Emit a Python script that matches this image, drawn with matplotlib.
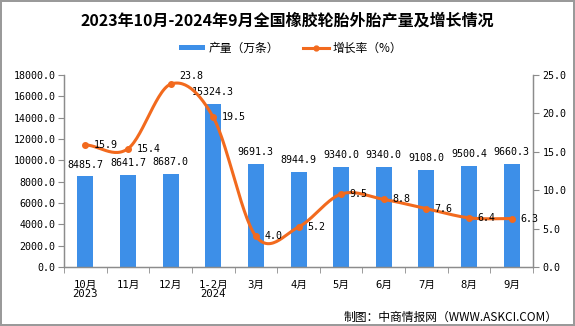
import numpy as np
import matplotlib
matplotlib.use("Agg")
import matplotlib.pyplot as plt
from matplotlib.lines import Line2D
from matplotlib.patches import Patch

months = ["10月\n2023", "11月", "12月", "1-2月\n2024", "3月", "4月",
          "5月", "6月", "7月", "8月", "9月"]
output = [8485.7, 8641.7, 8687.0, 15324.3, 9691.3, 8944.9,
          9340.0, 9340.0, 9108.0, 9500.4, 9660.3]
growth = [15.9, 15.4, 23.8, 19.5, 4.0, 5.2, 9.5, 8.8, 7.6, 6.4, 6.3]

BLUE = "#3d8fe8"
ORANGE = "#f26a1e"
GRAY = "#8c8c8c"
NUM = ["DejaVu Sans Mono", "Noto Sans CJK SC"]
CJK = ["Noto Sans CJK SC", "DejaVu Sans"]


def cardinal_spline(y, n=30):
    # smooth drawing path through the points (catmull-rom)
    y = np.asarray(y, dtype=float)
    x = np.arange(len(y), dtype=float)
    m = np.zeros_like(y)
    m[1:-1] = (y[2:] - y[:-2]) / 2
    m[0] = (y[1] - y[0]) / 2
    m[-1] = (y[-1] - y[-2]) / 2
    xs, ys = [], []
    t = np.linspace(0, 1, n)
    h00 = 2 * t**3 - 3 * t**2 + 1
    h10 = t**3 - 2 * t**2 + t
    h01 = -2 * t**3 + 3 * t**2
    h11 = t**3 - t**2
    for i in range(len(y) - 1):
        xs.append(x[i] + t)
        ys.append(h00 * y[i] + h10 * m[i] + h01 * y[i + 1] + h11 * m[i + 1])
    return np.concatenate(xs), np.concatenate(ys)


fig = plt.figure(figsize=(5.75, 3.26), dpi=100)
fig.patch.set_facecolor("white")
fig.patch.set_edgecolor("#9a9a9a")
fig.patch.set_linewidth(1.5)

ax1 = fig.add_axes([0.1113, 0.181, 0.8157, 0.589])
ax2 = ax1.twinx()

x = np.arange(len(months))
ax1.bar(x, output, width=0.375, color=BLUE, zorder=2)
ax1.set_xlim(-0.5, len(months) - 0.5)
ax1.set_ylim(0, 18000)
ax1.set_yticks(np.arange(0, 18001, 2000))
ax1.set_yticklabels([f"{v:.1f}" for v in np.arange(0, 18001, 2000)],
                    family=NUM, fontsize=7.2)
ax1.set_xticks(x)
ax1.set_xticklabels(months, family=NUM, fontsize=7.6, linespacing=0.95)
ax1.set_xticks(np.arange(-0.5, len(months), 1), minor=True)
ax1.tick_params(axis="x", which="major", length=0, pad=9)
ax1.tick_params(axis="x", which="minor", length=4, color=GRAY)
ax1.tick_params(axis="y", length=4, color=GRAY, pad=2)

for i, v in enumerate(output):
    ax1.annotate(f"{v:.1f}", (x[i], v), xytext=(0, 5), textcoords="offset points",
                 ha="center", va="bottom", family=NUM, fontsize=7.2)

sx, sy = cardinal_spline(growth)
ax2.plot(sx, sy, color=ORANGE, linewidth=2.2, zorder=3)
ax2.plot(x, growth, "o", color=ORANGE, markersize=4, zorder=4)
ax2.set_ylim(0, 25)
ax2.set_yticks(np.arange(0, 26, 5))
ax2.set_yticklabels([f"{v:.1f}" for v in np.arange(0, 26, 5)],
                    family=NUM, fontsize=7.2)
ax2.tick_params(axis="y", length=4, color=GRAY, pad=3)

for i, v in enumerate(growth):
    off = (6, 6) if i == 2 else (6, 0)
    ax2.annotate(f"{v:.1f}", (x[i], v), xytext=off, textcoords="offset points",
                 ha="left", va="center", family=NUM, fontsize=7.2, zorder=5)

for ax in (ax1, ax2):
    ax.spines["top"].set_visible(False)
    for s in ("left", "right", "bottom"):
        ax.spines[s].set_color(GRAY)
        ax.spines[s].set_linewidth(0.9)

fig.text(0.5, 0.938, "2023年10月-2024年9月全国橡胶轮胎外胎产量及增长情况",
         ha="center", va="center", family=CJK, fontsize=11.5, fontweight="bold")

handles = [Patch(facecolor=BLUE, edgecolor="none"),
           Line2D([0], [0], color=ORANGE, linewidth=2.2, marker="o", markersize=3.5)]
fig.legend(handles, ["产量（万条）", "增长率（%）"], loc="center",
           bbox_to_anchor=(0.505, 0.853), ncol=2, frameon=False,
           prop={"family": CJK, "size": 8.5}, handlelength=2.2, handleheight=0.3,
           columnspacing=2.0, handletextpad=0.3)

fig.text(0.97, 0.025, "制图：中商情报网（WWW.ASKCI.COM）", ha="right", va="center",
         family=CJK, fontsize=8.5)

fig.savefig("out.png", dpi=100, facecolor=fig.get_facecolor(),
            edgecolor=fig.get_edgecolor())
